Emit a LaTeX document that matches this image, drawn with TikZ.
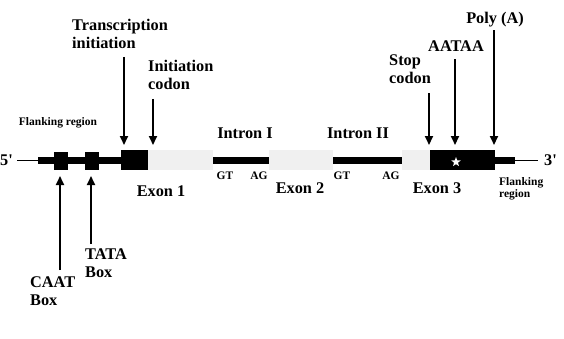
\documentclass[tikz,border=0pt]{standalone}
\usepackage{fontspec}
\setmainfont{Liberation Serif}
\usepackage{tikz}
\usetikzlibrary{arrows.meta, positioning, shapes.geometric}
\definecolor{exongray}{RGB}{240,240,240}
\tikzset{
    barnode/.style = {draw=none, fill=black, rectangle, inner sep=0pt, outer sep=0pt, minimum height=7pt},
    boxnode/.style = {draw=none, fill=black, rectangle, inner sep=0pt, outer sep=0pt, minimum height=18pt, minimum width=14pt},
    exonnode/.style = {draw=none, fill=exongray, rectangle, inner sep=0pt, outer sep=0pt, minimum height=20pt},
    codingnode/.style = {draw=none, fill=black, rectangle, inner sep=0pt, outer sep=0pt, minimum height=20pt},
    textnode/.style = {draw=none, fill=none, inner sep=0pt, font=\fontsize{16.3}{18}\selectfont\bfseries, align=left},
    smalltextnode/.style = {draw=none, fill=none, inner sep=0pt, font=\fontsize{11.5}{12}\selectfont\bfseries, align=left},
    pointer/.style = {line width=2pt, -{Triangle[length=9pt,width=8pt]}},
    thinline/.style = {line width=1pt}
}

\begin{document}
\begin{tikzpicture}[x=1pt, y=-1pt]
\useasboundingbox (0,0) rectangle (564,338);
% the gene
\node[barnode, minimum width=83pt, anchor=west] (flankL) at (38,160) {};
\node[boxnode] (caat) at (61,161) {};
\node[boxnode] (tata) at (92,161) {};
\node[codingnode, minimum width=27pt, anchor=west] (tblock) at (121,160) {};
\node[exonnode, minimum width=65pt, right=0pt of tblock] (exon1) {};
\node[barnode, minimum width=56pt, right=0pt of exon1] (intron1) {};
\node[exonnode, minimum width=64pt, right=0pt of intron1] (exon2) {};
\node[barnode, minimum width=69pt, right=0pt of exon2] (intron2) {};
\node[exonnode, minimum width=28pt, right=0pt of intron2] (exon3a) {};
\node[codingnode, minimum width=65pt, right=0pt of exon3a] (exon3b) {};
\node[barnode, minimum width=20pt, right=0pt of exon3b] (flankR) {};
\node[star, star points=5, star point ratio=2.4, fill=white, inner sep=0pt, minimum size=10pt] (star) at (456,162) {};
\node[textnode, anchor=west] (five) at (0,160) {5\textquotesingle};
\node[textnode, anchor=west] (three) at (544,160) {3\textquotesingle};
\draw[thinline, shorten <=4pt] (five.east) -- (flankL.west);
\draw[thinline, shorten >=6pt] (flankR.east) -- (three.west);

% labels
\node[smalltextnode] (flankLtext) at (58,123) {Flanking region};
\node[textnode, anchor=north west] (tinit) at (72,19) {Transcription\\initiation};
\node[textnode, anchor=north west] (icodon) at (148,60) {Initiation\\codon};
\node[textnode] (intronItext) at (245,133) {Intron I};
\node[textnode] (intronIItext) at (358,133) {Intron II};
\node[textnode, anchor=north west] (scodon) at (389,55) {Stop\\codon};
\node[textnode, anchor=north] (aataa) at (456,41) {AATAA};
\node[textnode, anchor=north] (polya) at (495,12) {Poly (A)};
\node[smalltextnode] (gt1) at (225,176) {GT};
\node[smalltextnode] (ag1) at (259,176) {AG};
\node[smalltextnode] (gt2) at (342,176) {GT};
\node[smalltextnode] (ag2) at (391,176) {AG};
\node[textnode] (exon1text) at (161,191) {Exon 1};
\node[textnode] (exon2text) at (300,188) {Exon 2};
\node[textnode] (exon3text) at (437,188) {Exon 3};
\node[smalltextnode, anchor=north west] (flankRtext) at (499,177) {Flanking\\region};
\node[textnode, anchor=north west] (caattext) at (30,276) {CAAT\\Box};
\node[textnode, anchor=north west] (tatatext) at (85,249) {TATA\\Box};

% arrows
\coordinate (tss) at (124,145);
\coordinate (atg) at (153,145);
\coordinate (stop) at (429,145);
\coordinate (signal) at (455,145);
\coordinate (site) at (494,145);
\coordinate (caatpt) at (60,176);
\coordinate (tatapt) at (91,176);
\draw[pointer] ([yshift=-8pt]tinit.south -| tss) -- (tss);
\draw[pointer] ([yshift=-9pt]icodon.south -| atg) -- (atg);
\draw[pointer] ([yshift=-9pt]scodon.south -| stop) -- (stop);
\draw[pointer] ([yshift=-7pt]aataa.south -| signal) -- (signal);
\draw[pointer] ([yshift=-3pt]polya.south -| site) -- (site);
\draw[pointer] ([yshift=6pt]caattext.north -| caatpt) -- (caatpt);
\draw[pointer] ([yshift=5pt]tatatext.north -| tatapt) -- (tatapt);
\end{tikzpicture}
\end{document}
